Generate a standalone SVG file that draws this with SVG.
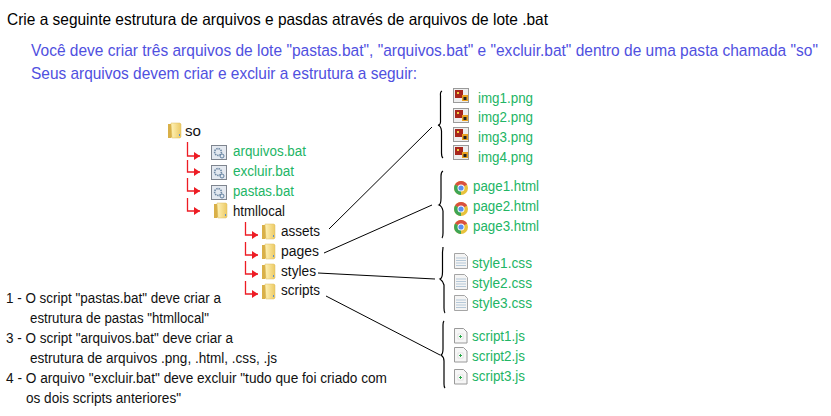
<svg xmlns="http://www.w3.org/2000/svg" width="831" height="416" viewBox="0 0 831 416">
<style>
text{font-family:"Liberation Sans",Arial,sans-serif;font-size:14px;fill:#111}
.h{font-size:16.500px;fill:#000}
.b{font-size:17px;fill:#5050e0}
.g{fill:#22b565}
.r{fill:none;stroke:#ed1c24;stroke-width:1.300;marker-end:url(#ah)}
.l{fill:none;stroke:#000;stroke-width:1}
.br{fill:none;stroke:#000;stroke-width:1.200}
</style>
<defs>
<marker id="ah" markerUnits="userSpaceOnUse" markerWidth="7" markerHeight="8" refX="6" refY="4" orient="auto"><path d="M0 0L6 4L0 8Z" fill="#ed1c24"/></marker>
<linearGradient id="fg" x1="0" x2="1" y1="0" y2="0"><stop offset="0" stop-color="#fff3b8"/><stop offset="1" stop-color="#ecc964"/></linearGradient>
<symbol id="folder" overflow="visible"><path d="M0 1h3l1 1v12l-1 1H0Z" fill="#d9b048"/><path d="M3 0h9l1 1v13l-1 1H4Z" fill="url(#fg)" stroke="#dcbc5e" stroke-width=".5"/><rect x="11" y="11" width="1" height="2" fill="#5a8fd0"/></symbol>
<symbol id="bat" overflow="visible"><rect x=".5" y=".5" width="15" height="14" fill="#e4e9f0" stroke="#7f858f"/><circle cx="7" cy="7" r="3.400" fill="none" stroke="#6f8aa5" stroke-width="1.600" stroke-dasharray="1.500 .8"/><circle cx="11" cy="11" r="2" fill="none" stroke="#5f7f9f"/></symbol>
<symbol id="img" overflow="visible"><rect x=".5" y=".5" width="15" height="14" fill="#eee" stroke="#9a9a9a"/><path d="M2 2h8v8H2Z" fill="#a8261c"/><rect x="4" y="4" width="2" height="2" fill="#f0d040"/><rect x="9" y="7" width="6" height="6" fill="#e8a020"/><rect x="10.500" y="9" width="3" height="3" fill="#222"/></symbol>
<symbol id="chrome" overflow="visible"><circle cx="7" cy="7" r="7" fill="#e8c23c"/><path d="M7 7L1 3.500A7 7 0 0 1 13.100 3.500Z" fill="#d9503f"/><path d="M7 7L1 3.500A7 7 0 0 0 7 14Z" fill="#3ea555"/><circle cx="7" cy="7" r="3.500" fill="#fff"/><circle cx="7" cy="7" r="2.600" fill="#5a8ff0"/></symbol>
<symbol id="css" overflow="visible"><path d="M.5.500h10l3 3v12H.5Z" fill="#f4f4f4" stroke="#a5a5a5"/><path d="M2 5h10M2 7.500h10M2 10h10M2 12.500h10" stroke="#b5c8d8" stroke-width="1"/></symbol>
<symbol id="js" overflow="visible"><path d="M.5.500h9l3.500 3.500v11H.5Z" fill="#f6f6f6" stroke="#9a9a9a"/><rect x="4" y="6" width="5" height="5" fill="#fff" stroke="#ccc" stroke-width=".5"/><path d="M6.500 7v3M5 8.500h3" stroke="#2aa84a"/></symbol>
</defs>
<rect width="831" height="416" fill="#fff"/>
<g id="header">
<text class="h" x="7" y="25" textLength="541" lengthAdjust="spacingAndGlyphs">Crie a seguinte estrutura de arquivos e pasdas através de arquivos de lote .bat</text>
<text class="b" transform="translate(31 56) scale(.92 1)" textLength="855.400" lengthAdjust="spacingAndGlyphs">Você deve criar três arquivos de lote "pastas.bat", "arquivos.bat" e "excluir.bat" dentro de uma pasta chamada "so"</text>
<text class="b" x="31" y="79" textLength="386" lengthAdjust="spacingAndGlyphs">Seus arquivos devem criar e excluir a estrutura a seguir:</text>
</g>
<g id="connectors">
<path class="r" d="M187.500 142V156H200"/>
<path class="r" d="M187.500 160V172H200"/>
<path class="r" d="M187.500 178V191H200"/>
<path class="r" d="M187.500 198V211H200"/>
<path class="r" d="M245.500 222V235H258"/>
<path class="r" d="M245.500 242V255H258"/>
<path class="r" d="M245.500 261V274H258"/>
<path class="r" d="M245.500 281V294H258"/>
<path class="l" d="M329 229L432 127"/>
<path class="l" d="M324 253L432 205"/>
<path class="l" d="M318 273L435 279"/>
<path class="l" d="M326 296L440 355"/>
<path class="br" d="M442 91Q440 92 440.500 96V120Q441 125 438 125Q441 126 441.500 131V153Q441.500 157 443 158"/>
<path class="br" d="M443 171Q441 172 441 176V198Q441 204 439 205Q442 206 443 211V233Q443 237 442 238"/>
<path class="br" d="M443 247Q443 249 442.500 252V272Q442.500 278 440 279Q443 281 444 285V308Q444 312 445 313"/>
<path class="br" d="M444 321Q443 322 443 325V349Q443 354 441 355Q444 357 444 361V384Q444 387 445 388"/>
</g>
<g id="so"><use href="#folder" x="168" y="123"/><text x="185" y="136" textLength="16" lengthAdjust="spacingAndGlyphs">so</text></g>
<g id="arquivos-bat"><use href="#bat" x="211" y="145"/><text class="g" x="233" y="156" textLength="73" lengthAdjust="spacingAndGlyphs">arquivos.bat</text></g>
<g id="excluir-bat"><use href="#bat" x="211" y="165"/><text class="g" x="233" y="176" textLength="61" lengthAdjust="spacingAndGlyphs">excluir.bat</text></g>
<g id="pastas-bat"><use href="#bat" x="211" y="185"/><text class="g" x="233" y="196" textLength="61" lengthAdjust="spacingAndGlyphs">pastas.bat</text></g>
<g id="htmllocal"><use href="#folder" x="214" y="203"/><text x="233" y="216" textLength="52" lengthAdjust="spacingAndGlyphs">htmllocal</text></g>
<g id="assets"><use href="#folder" x="262" y="224"/><text x="281" y="236" textLength="39" lengthAdjust="spacingAndGlyphs">assets</text></g>
<g id="pages"><use href="#folder" x="262" y="244"/><text x="281" y="256" textLength="38" lengthAdjust="spacingAndGlyphs">pages</text></g>
<g id="styles"><use href="#folder" x="262" y="264"/><text x="281" y="276" textLength="35" lengthAdjust="spacingAndGlyphs">styles</text></g>
<g id="scripts"><use href="#folder" x="262" y="284"/><text x="281" y="295" textLength="39" lengthAdjust="spacingAndGlyphs">scripts</text></g>
<g id="img1"><use href="#img" x="453" y="88"/><text class="g" x="478" y="103" textLength="55" lengthAdjust="spacingAndGlyphs">img1.png</text></g>
<g id="img2"><use href="#img" x="453" y="108"/><text class="g" x="478" y="122" textLength="55" lengthAdjust="spacingAndGlyphs">img2.png</text></g>
<g id="img3"><use href="#img" x="453" y="127"/><text class="g" x="478" y="142" textLength="55" lengthAdjust="spacingAndGlyphs">img3.png</text></g>
<g id="img4"><use href="#img" x="453" y="145"/><text class="g" x="478" y="162" textLength="55" lengthAdjust="spacingAndGlyphs">img4.png</text></g>
<g id="page1"><use href="#chrome" x="454" y="181"/><text class="g" x="473" y="191" textLength="66" lengthAdjust="spacingAndGlyphs">page1.html</text></g>
<g id="page2"><use href="#chrome" x="454" y="202"/><text class="g" x="473" y="211" textLength="66" lengthAdjust="spacingAndGlyphs">page2.html</text></g>
<g id="page3"><use href="#chrome" x="454" y="220"/><text class="g" x="473" y="231" textLength="66" lengthAdjust="spacingAndGlyphs">page3.html</text></g>
<g id="style1"><use href="#css" x="454" y="253"/><text class="g" x="472" y="268" textLength="60" lengthAdjust="spacingAndGlyphs">style1.css</text></g>
<g id="style2"><use href="#css" x="454" y="274"/><text class="g" x="472" y="288" textLength="60" lengthAdjust="spacingAndGlyphs">style2.css</text></g>
<g id="style3"><use href="#css" x="454" y="295"/><text class="g" x="472" y="308" textLength="60" lengthAdjust="spacingAndGlyphs">style3.css</text></g>
<g id="script1"><use href="#js" x="454" y="328"/><text class="g" x="472" y="341" textLength="53" lengthAdjust="spacingAndGlyphs">script1.js</text></g>
<g id="script2"><use href="#js" x="454" y="347"/><text class="g" x="472" y="361" textLength="53" lengthAdjust="spacingAndGlyphs">script2.js</text></g>
<g id="script3"><use href="#js" x="454" y="369"/><text class="g" x="472" y="381" textLength="53" lengthAdjust="spacingAndGlyphs">script3.js</text></g>
<g id="notes">
<text x="6" y="303" textLength="215" lengthAdjust="spacingAndGlyphs">1 - O script "pastas.bat" deve criar a</text>
<text x="30" y="323" textLength="179" lengthAdjust="spacingAndGlyphs">estrutura de pastas "htmllocal"</text>
<text x="6" y="343" textLength="227" lengthAdjust="spacingAndGlyphs">3 - O script "arquivos.bat" deve criar a</text>
<text x="30" y="363" textLength="247" lengthAdjust="spacingAndGlyphs">estrutura de arquivos .png, .html, .css, .js</text>
<text x="6" y="383" textLength="381" lengthAdjust="spacingAndGlyphs">4 - O arquivo "excluir.bat" deve excluir "tudo que foi criado com</text>
<text x="26" y="403" textLength="155" lengthAdjust="spacingAndGlyphs">os dois scripts anteriores"</text>
</g>
</svg>
